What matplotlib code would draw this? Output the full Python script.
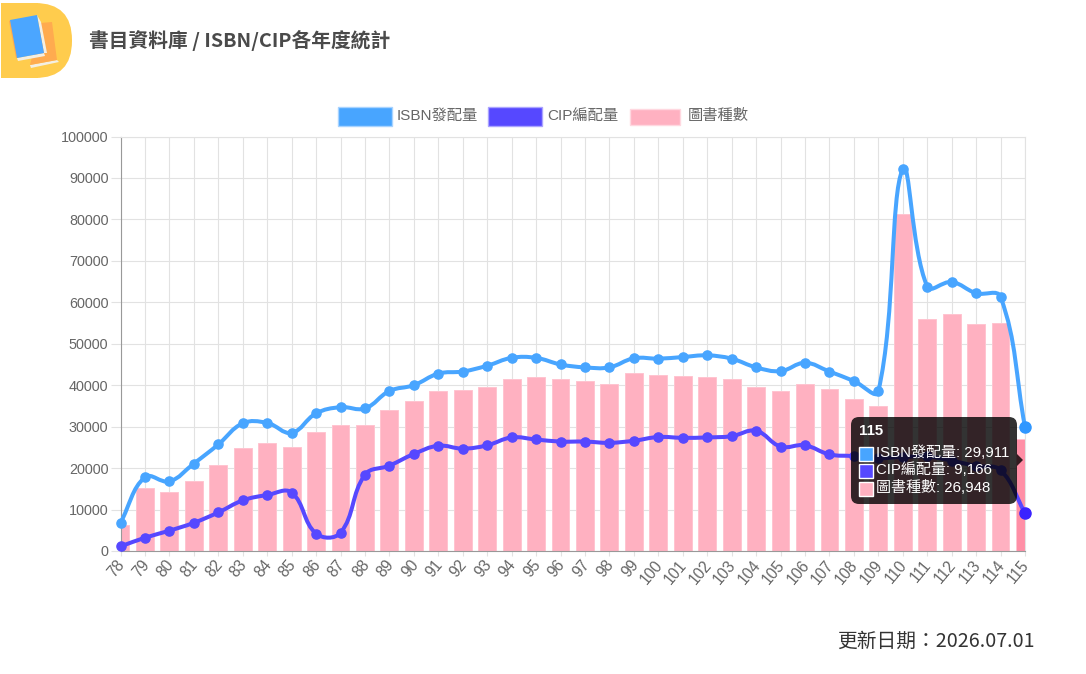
import numpy as np
import matplotlib
matplotlib.use('Agg')
import matplotlib.pyplot as plt
from matplotlib.patches import FancyBboxPatch, PathPatch, Polygon, Rectangle
from matplotlib.path import Path
from matplotlib.transforms import Affine2D, ScaledTranslation

plt.rcParams['font.family'] = ['Liberation Sans', 'Noto Sans CJK TC', 'DejaVu Sans']

years = [str(y) for y in range(78, 116)]
isbn = [6800, 17800, 16800, 21100, 25700, 30800, 30900, 28500, 33200, 34700,
        34400, 38600, 40000, 42800, 43300, 44700, 46600, 46600, 45000, 44300,
        44300, 46500, 46400, 46800, 47200, 46400, 44300, 43400, 45400, 43300,
        41000, 38500, 92200, 63800, 64900, 62200, 61300, 29911]
cip = [1100, 3200, 4900, 6800, 9300, 12200, 13500, 14100, 4200, 4400,
       18400, 20600, 23400, 25400, 24700, 25500, 27400, 26900, 26400, 26400,
       26100, 26600, 27500, 27300, 27400, 27700, 29000, 25200, 25500, 23300,
       22900, 22400, 22700, 22800, 21800, 20500, 19500, 9166]
books = [6200, 15300, 14200, 17000, 20700, 24900, 26000, 25100, 28700, 30400,
         30400, 34100, 36200, 38600, 38900, 39500, 41500, 42000, 41500, 40900,
         40300, 43000, 42400, 42200, 42000, 41500, 39600, 38700, 40200, 39000,
         36700, 35000, 81400, 56000, 57200, 54700, 55000, 26948]

BLUE = '#48A5FF'
VIOLET = '#5648FF'
PINK = '#FFB1C1'
GRID = '#E2E2E2'
GRAY = '#666666'

fig = plt.figure(figsize=(10.86, 6.74), dpi=100)
ax = fig.add_axes([120.5 / 1086, 1 - 551 / 674, 904.5 / 1086, 414.5 / 674])
# page coordinates in pixels, origin at top left
page = Affine2D().scale(1, -1).translate(0, 674)


def spline_path(values, tension=0.4):
    # same bezier control points as a Chart.js line
    pts = ax.transData.transform(np.column_stack([np.arange(len(values)), values]))
    before, after = [], []
    for i, cur in enumerate(pts):
        prev = pts[max(i - 1, 0)]
        nxt = pts[min(i + 1, len(pts) - 1)]
        d01 = np.hypot(*(cur - prev))
        d12 = np.hypot(*(nxt - cur))
        total = d01 + d12
        before.append(cur - tension * d01 / total * (nxt - prev))
        after.append(cur + tension * d12 / total * (nxt - prev))
    verts = [pts[0]]
    codes = [Path.MOVETO]
    for i in range(1, len(pts)):
        verts += [after[i - 1], before[i], pts[i]]
        codes += [Path.CURVE4] * 3
    return Path(ax.transData.inverted().transform(np.array(verts)), codes)


x = np.arange(len(years))
ax.set_xlim(0, len(years) - 1)
ax.set_ylim(0, 100000)

bar_colors = [PINK] * (len(years) - 1) + ['#FF8FA6']
ax.bar(x, books, width=0.73, color=bar_colors, edgecolor='#FFC4D0', linewidth=0.7, zorder=2)

for values, color, hover in [(isbn, BLUE, '#2F97FF'), (cip, VIOLET, '#3A22FF')]:
    ax.add_patch(PathPatch(spline_path(values), fill=False, edgecolor=color,
                           linewidth=2.9, clip_on=False, zorder=3))
    ax.plot(x[:-1], values[:-1], 'o', color=color, markersize=6.6, clip_on=False, zorder=4)
    ax.plot(x[-1:], values[-1:], 'o', color=hover, markersize=8, clip_on=False, zorder=4)

ax.set_xticks(x)
ax.set_xticklabels(years, rotation=50, ha='right', rotation_mode='anchor')
ax.set_yticks(range(0, 100001, 10000))
ax.tick_params(axis='y', length=7.2, width=0.8, color=GRID, labelcolor=GRAY, labelsize=10.4, pad=1.5)
ax.tick_params(axis='x', length=3.6, width=0.8, color=GRID, labelcolor=GRAY, labelsize=11.2, pad=1)
shift = ScaledTranslation(-3 / 72, 0, fig.dpi_scale_trans)
for label in ax.get_xticklabels():
    label.set_transform(label.get_transform() + shift)
ax.grid(True, color=GRID, linewidth=0.8)
ax.set_axisbelow(True)
ax.spines['top'].set_color(GRID)
ax.spines['right'].set_color(GRID)
ax.spines['left'].set_color('#999999')
ax.spines['bottom'].set_color('#999999')


def add_rect(x0, y0, x1, y1, color, edge=None, zorder=5):
    fig.add_artist(Rectangle((x0, y0), x1 - x0, y1 - y0, transform=page, facecolor=color,
                             edgecolor=edge or color, linewidth=1, zorder=zorder))


def add_text(x0, y0, s, size, color, **kw):
    fig.text(x0, y0, s, transform=page, fontsize=size, color=color, va='center', zorder=7, **kw)


# legend
add_rect(338, 107, 392, 126, BLUE, '#A8D3FF')
add_text(397, 116, 'ISBN發配量', 11, GRAY)
add_rect(488, 107, 542, 126, VIOLET, '#ABA4FF')
add_text(547, 116, 'CIP編配量', 11, GRAY)
add_rect(630, 109, 680, 125, PINK, '#FFD8E0')
add_text(688, 116, '圖書種數', 11, GRAY)

# header icon
fig.add_artist(FancyBboxPatch((1, 3), 71, 75, boxstyle='round,pad=0,rounding_size=37', transform=page,
                              facecolor='#FFCC4D', edgecolor='none', zorder=5))
fig.add_artist(Rectangle((1, 3), 37, 75, transform=page, facecolor='#FFCC4D', edgecolor='none', zorder=5))
for shape, color in [([(30, 65), (57, 60), (59, 62), (31, 68)], '#F4EFE2'),
                     ([(40, 23), (52, 22), (57, 60), (30, 65)], '#FFAB4F'),
                     ([(9, 21), (11, 20), (18, 58), (16, 58)], '#FFAB4F'),
                     ([(37, 15), (41, 22), (47, 53), (44, 53)], '#F4EFE2'),
                     ([(17, 58), (44, 53), (45, 56), (18, 61)], '#F4EFE2'),
                     ([(10, 20), (37, 15), (44, 53), (17, 58)], '#4BA6FF')]:
    fig.add_artist(Polygon(shape, transform=page, facecolor=color, edgecolor='none', zorder=6))

# page texts
title_font = ['Noto Sans CJK TC', 'DejaVu Sans']
add_text(89, 40.5, '書目資料庫 / ISBN/CIP各年度統計', 14.2, '#4A4A4A', family=title_font, weight='bold')
add_text(837, 641, '更新日期：2026.07.01', 14.2, '#333333', family=title_font)

# tooltip on the last year
tip = (0, 0, 0, 0.8)
fig.add_artist(FancyBboxPatch((851, 417), 166, 87, boxstyle='round,pad=0,rounding_size=8', transform=page,
                              facecolor=tip, edgecolor='none', zorder=5))
fig.add_artist(Polygon([(1017, 454), (1023, 460), (1017, 466)], transform=page,
                       facecolor=tip, edgecolor='none', zorder=5))
add_text(859, 431, years[-1], 10.8, 'white', weight='bold')
tip_rows = [('ISBN發配量', isbn[-1], BLUE, 454), ('CIP編配量', cip[-1], VIOLET, 471), ('圖書種數', books[-1], PINK, 489)]
for name, value, color, y_mid in tip_rows:
    add_rect(859, y_mid - 7, 873, y_mid + 7, color, 'white', zorder=6)
    add_text(876, y_mid - 1, f'{name}: {value:,}', 10.8, 'white')

fig.savefig('out.png', dpi=100)
